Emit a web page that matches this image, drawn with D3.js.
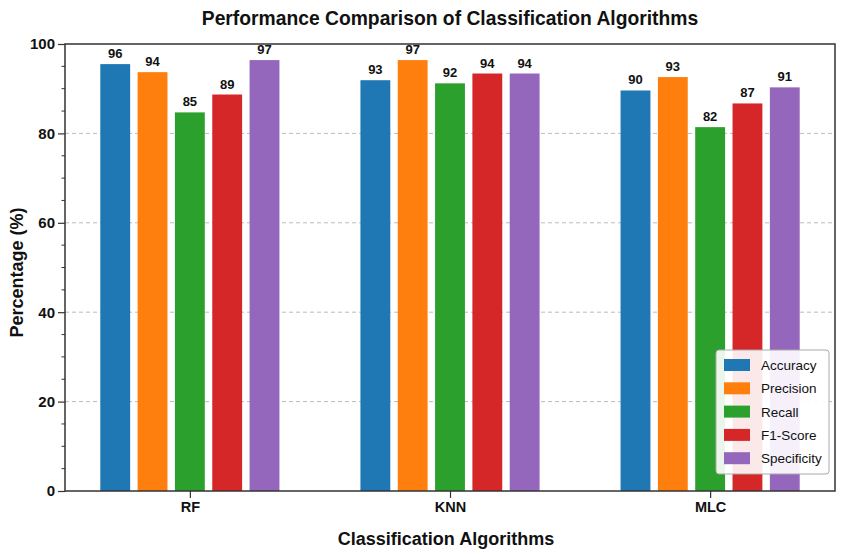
<!DOCTYPE html>
<html><head><meta charset="utf-8">
<script src="https://cdn.jsdelivr.net/npm/d3@7"></script>
<style>body{margin:0;background:#fff;} text{font-family:"Liberation Sans",Arial,sans-serif;}</style>
</head><body><svg id="c" width="845" height="556"></svg>
<script>
const algorithms = ["RF", "KNN", "MLC"];
const metrics = ["Accuracy", "Precision", "Recall", "F1-Score", "Specificity"];
const colors = ["#1f77b4", "#ff7f0e", "#2ca02c", "#d62728", "#9467bd"];
// bar heights, per algorithm
const accuracy    = [95.5, 91.9, 89.6];
const precision   = [93.7, 96.4, 92.6];
const recall      = [84.7, 91.2, 81.4];
const f1score     = [88.7, 93.4, 86.7];
const specificity = [96.4, 93.4, 90.3];
// printed value labels
const accuracyLabels    = ["96", "93", "90"];
const precisionLabels   = ["94", "97", "93"];
const recallLabels      = ["85", "92", "82"];
const f1scoreLabels     = ["89", "94", "87"];
const specificityLabels = ["97", "94", "91"];
const yTicks = [0, 20, 40, 60, 80, 100];

const series = [accuracy, precision, recall, f1score, specificity];
const labels = [accuracyLabels, precisionLabels, recallLabels, f1scoreLabels, specificityLabels];

const svg = d3.select("#c");
const m = {l: 65, r: 835, t: 44, b: 491};
const x = d3.scalePoint().domain(algorithms).range([m.l, m.r]).padding(0.48);
const xi = d3.scaleBand().domain(metrics).range([-93.3, 93.3]).paddingInner(0.2).paddingOuter(0.1);
const y = d3.scaleLinear().domain([0, 100]).range([m.b, m.t]);

// grid
svg.append("g").selectAll("line").data(yTicks.filter(d => d > 0 && d < 100)).join("line")
  .attr("x1", m.l).attr("x2", m.r).attr("y1", d => y(d)).attr("y2", d => y(d))
  .attr("stroke", "#bbb").attr("stroke-width", 1).attr("stroke-dasharray", "4,3");

// bars
const data = [];
algorithms.forEach((a, i) => metrics.forEach((mt, j) => data.push({a, mt, j, v: series[j][i], lab: labels[j][i]})));
const bw = xi.bandwidth();
svg.append("g").selectAll("rect").data(data).join("rect")
  .attr("x", d => x(d.a) + xi(d.mt))
  .attr("y", d => y(d.v)).attr("width", bw).attr("height", d => y(0) - y(d.v))
  .attr("fill", d => colors[d.j]);
svg.append("g").selectAll("text").data(data).join("text")
  .attr("x", d => x(d.a) + xi(d.mt) + bw / 2).attr("y", d => y(d.v) - 6)
  .attr("text-anchor", "middle").attr("font-size", 13).attr("font-weight", "bold").attr("fill", "#111")
  .text(d => d.lab);

// y axis
const yAxis = svg.append("g").attr("transform", `translate(${m.l},0)`)
  .call(d3.axisLeft(y).tickValues(yTicks).tickSize(7).tickPadding(3));
yAxis.select(".domain").remove();
yAxis.selectAll("text").attr("font-size", 15).attr("font-weight", "bold").attr("fill", "#111");
yAxis.selectAll("line").attr("stroke", "#333").attr("stroke-width", 1.2);
const minor = d3.range(0, 101, 5).filter(d => d % 20 !== 0);
svg.append("g").selectAll("line").data(minor).join("line")
  .attr("x1", m.l - 3.5).attr("x2", m.l).attr("y1", d => y(d)).attr("y2", d => y(d))
  .attr("stroke", "#333").attr("stroke-width", 1);

// x axis
const xAxis = svg.append("g").attr("transform", `translate(0,${m.b})`)
  .call(d3.axisBottom(x).tickSize(7).tickPadding(4));
xAxis.select(".domain").remove();
xAxis.selectAll("text").attr("font-size", 14.5).attr("font-weight", "bold").attr("fill", "#111");
xAxis.selectAll("line").attr("stroke", "#333").attr("stroke-width", 1.2);

// frame
svg.append("rect").attr("x", m.l).attr("y", m.t).attr("width", m.r - m.l).attr("height", m.b - m.t)
  .attr("fill", "none").attr("stroke", "#333").attr("stroke-width", 1.5);

// titles
svg.append("text").attr("x", (m.l + m.r) / 2).attr("y", 25).attr("text-anchor", "middle")
  .attr("font-size", 19.3).attr("font-weight", "bold").attr("fill", "#111")
  .text("Performance Comparison of Classification Algorithms");
svg.append("text").attr("x", (m.l + m.r) / 2 - 4).attr("y", 545).attr("text-anchor", "middle")
  .attr("font-size", 18).attr("font-weight", "bold").attr("fill", "#111")
  .text("Classification Algorithms");
svg.append("text").attr("transform", `translate(23,${(m.t + m.b) / 2 + 5}) rotate(-90)`).attr("text-anchor", "middle")
  .attr("font-size", 18).attr("font-weight", "bold").attr("fill", "#111")
  .text("Percentage (%)");

// legend
const lg = svg.append("g").attr("transform", "translate(716,350)");
lg.append("rect").attr("width", 113).attr("height", 124).attr("rx", 3)
  .attr("fill", "#fff").attr("fill-opacity", 0.9).attr("stroke", "#aaa").attr("stroke-width", 1);
const li = lg.selectAll("g").data(metrics).join("g").attr("transform", (d, i) => `translate(8,${9 + i * 23.3})`);
li.append("rect").attr("width", 26).attr("height", 12).attr("fill", (d, i) => colors[i]);
li.append("text").attr("x", 37).attr("y", 11).attr("font-size", 13.5).attr("fill", "#111").text(d => d);
</script></body></html>
